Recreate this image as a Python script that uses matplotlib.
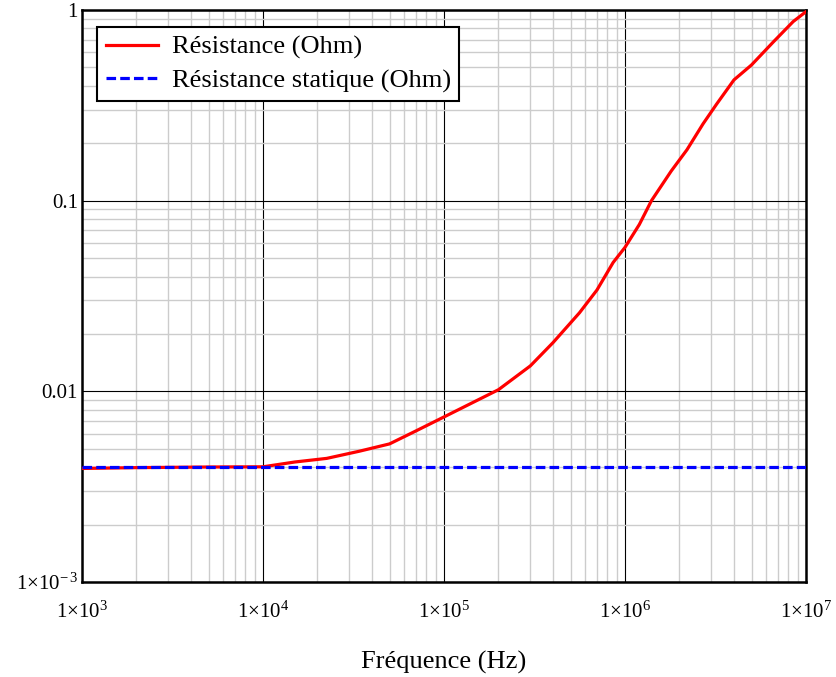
import numpy as np
import matplotlib
matplotlib.use('Agg')
from matplotlib import pyplot as plt
from matplotlib.ticker import LogLocator, FixedLocator, NullFormatter

#DATA
freq = [1e3, 2e3, 5e3, 1e4, 1.5e4, 2.25e4, 3.4e4, 5e4, 7e4, 1e5, 1.5e5, 2e5,
        3e5, 4e5, 5.6e5, 7e5, 8.6e5, 1e6, 1.2e6, 1.4e6, 1.8e6, 2.2e6, 2.7e6,
        3.2e6, 4e6, 5e6, 6.6e6, 8.5e6, 1e7]
R_ac = [0.00394, 0.00398, 0.00401, 0.00402, 0.00426, 0.00445, 0.00485, 0.0053,
        0.0062, 0.00734, 0.0089, 0.0102, 0.0136, 0.0180, 0.0258, 0.034, 0.0474,
        0.0569, 0.075, 0.1, 0.143, 0.185, 0.253, 0.32, 0.43, 0.515, 0.68, 0.87, 0.98]
R_dc = 0.00403

xticks = [1e3, 1e4, 1e5, 1e6, 1e7]
xlabels = [r'1$\times$10$^{3}$', r'1$\times$10$^{4}$', r'1$\times$10$^{5}$',
           r'1$\times$10$^{6}$', r'1$\times$10$^{7}$']
yticks = [1e-3, 1e-2, 1e-1, 1]
ylabels = [r'1$\times$10$^{-\,3}$', '0.01', '0.1', '1']

plt.rcParams.update({'font.family': 'Liberation Serif',
                     'mathtext.fontset': 'custom',
                     'mathtext.rm': 'Liberation Serif',
                     'mathtext.it': 'Liberation Serif:italic',
                     'mathtext.bf': 'Liberation Serif:bold'})

fig = plt.figure(figsize=(8.37, 6.77), dpi=100)
ax = fig.add_axes([82/837, 1-582/677, 724/837, 572/677])

ax.plot(freq, R_ac, color='red', lw=2.3, label='Résistance (Ohm)', zorder=3)
ax.plot([freq[0], freq[-1]], [R_dc, R_dc], color='blue', lw=2.3,
        linestyle=(0, (3.0, 1.3)), label='Résistance statique (Ohm)', zorder=3)

ax.set_xscale('log'); ax.set_yscale('log')
ax.set_xlim(1e3, 1e7); ax.set_ylim(1e-3, 1)

ax.xaxis.set_major_locator(FixedLocator(xticks))
ax.set_xticklabels(xlabels)
ax.yaxis.set_major_locator(FixedLocator(yticks))
ax.set_yticklabels(ylabels)
ax.xaxis.set_minor_locator(LogLocator(base=10, subs=np.arange(2, 10)))
ax.yaxis.set_minor_locator(LogLocator(base=10, subs=np.arange(2, 10)))
ax.xaxis.set_minor_formatter(NullFormatter())
ax.yaxis.set_minor_formatter(NullFormatter())

ax.grid(which='minor', color='#cccccc', lw=1.0)
ax.grid(which='major', color='black', lw=0.8)
ax.set_axisbelow(True)
ax.tick_params(which='both', length=0, labelsize=15)
ax.tick_params(axis='x', pad=14)
ax.tick_params(axis='y', pad=3)
for s in ax.spines.values():
    s.set_linewidth(1.8)

ax.set_xlabel('Fréquence (Hz)', fontsize=19, labelpad=20)

leg = ax.legend(loc='upper left', bbox_to_anchor=(0.021, 0.97), fontsize=19,
                frameon=True, fancybox=False, framealpha=1, edgecolor='black',
                handlelength=2.0, borderpad=0.32, labelspacing=0.35,
                handletextpad=0.5, borderaxespad=0)
leg.get_frame().set_linewidth(1.5)

plt.savefig('out.png', dpi=100)
